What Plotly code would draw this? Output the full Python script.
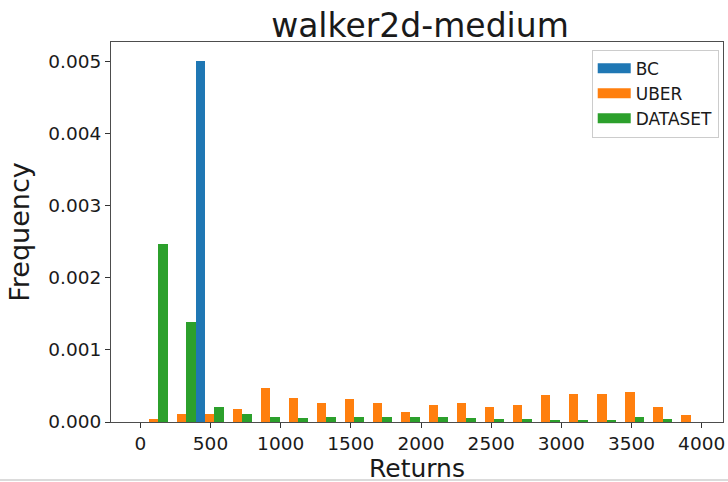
import plotly.graph_objects as go

# Histogram bins (returns), 20 equal-width bins
bin_start = -4.0
bin_width = 199.55
n_bins = 20
bin_centers = [bin_start + (k + 0.5) * bin_width for k in range(n_bins)]

# Normalised frequencies per bin
bc_freq = [0.0, 0.0, 0.00501, 0.0, 0.0, 0.0, 0.0, 0.0, 0.0, 0.0,
           0.0, 0.0, 0.0, 0.0, 0.0, 0.0, 0.0, 0.0, 0.0, 0.0]
uber_freq = [0.000037, 0.000115, 0.000115, 0.000175, 0.00047, 0.000335,
             0.000258, 0.000313, 0.000258, 0.000138, 0.000234, 0.000258,
             0.000211, 0.000234, 0.000372, 0.000395, 0.000395, 0.000414,
             0.000203, 0.000097]
dataset_freq = [0.00247, 0.00139, 0.000207, 0.000115, 0.000073, 0.000051,
                0.000064, 0.000073, 0.000073, 0.000073, 0.000064, 0.000051,
                0.000041, 0.000041, 0.000028, 0.000028, 0.000028, 0.000073,
                0.000041, 0.0]

series = [("BC", bc_freq, "#1f77b4"),
          ("UBER", uber_freq, "#ff7f0e"),
          ("DATASET", dataset_freq, "#2ca02c")]

x_ticks = [0, 500, 1000, 1500, 2000, 2500, 3000, 3500, 4000]
y_ticks = [0.0, 0.001, 0.002, 0.003, 0.004, 0.005]

FONT = "DejaVu Sans"
TXT = "#1a1a1a"
M_T, M_B = 42, 60
PLOT_H = 482 - M_T - M_B
PLOT_BOTTOM = 482 - M_B

fig = go.Figure()
for name, vals, color in series:
    fig.add_trace(go.Bar(x=bin_centers, y=vals, name=name, marker_color=color,
                         marker_line_width=0, showlegend=False))
# legend swatches drawn as wide patches
for name, vals, color in series:
    fig.add_trace(go.Scatter(x=[None], y=[None], mode="lines", name=name,
                             line=dict(color=color, width=11)))

axis_common = dict(showline=True, mirror=True, linecolor="#4d4d4d", linewidth=1,
                   ticks="outside", ticklen=5, tickcolor="#333", tickwidth=1,
                   showgrid=False, zeroline=False, automargin=False,
                   tickfont=dict(family=FONT, size=18.5, color=TXT))

fig.update_layout(
    width=728, height=482,
    margin=dict(l=111, r=5, t=M_T, b=M_B),
    paper_bgcolor="white", plot_bgcolor="white",
    barmode="group", bargap=0, bargroupgap=0,
    font=dict(family=FONT, color=TXT),
    title=dict(text="walker2d-medium", x=420 / 728, xanchor="center",
               y=1 - 25 / 482, yanchor="middle",
               font=dict(family=FONT, size=33, color=TXT)),
    xaxis=dict(range=[-209, 4152], tickvals=x_ticks,
               ticktext=[str(v) for v in x_ticks], **axis_common),
    yaxis=dict(range=[0, 0.005276], tickvals=y_ticks,
               ticktext=[f"{v:.3f}" for v in y_ticks],
               title=dict(text="Frequency", standoff=10,
                          font=dict(family=FONT, size=27, color=TXT)),
               **axis_common),
    legend=dict(x=0.993, xanchor="right", y=0.98, yanchor="top",
                bgcolor="white", bordercolor="#cccccc", borderwidth=1,
                font=dict(family=FONT, size=17, color=TXT),
                itemwidth=33, tracegroupgap=0),
    annotations=[dict(text="Returns", xref="paper", yref="paper",
                      x=0.5, xanchor="center",
                      y=-(453 - PLOT_BOTTOM) / PLOT_H, yanchor="top",
                      showarrow=False, borderpad=0,
                      font=dict(family=FONT, size=25, color=TXT))],
    shapes=[dict(type="line", xref="paper", yref="paper",
                 x0=-111 / 612, x1=1 + 5 / 612,
                 y0=-(480 - PLOT_BOTTOM) / PLOT_H, y1=-(480 - PLOT_BOTTOM) / PLOT_H,
                 line=dict(color="#cfcfcf", width=1.5))],
)

fig.write_html("out.html")
